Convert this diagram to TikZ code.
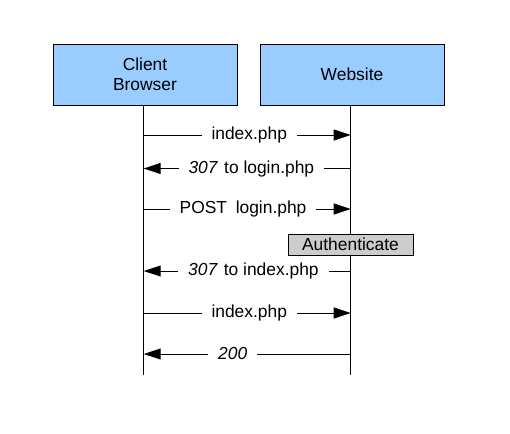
\documentclass[tikz,border=0pt]{standalone}
\usepackage{fontspec}
\setmainfont{Liberation Sans}
\usetikzlibrary{arrows.meta}
\definecolor{boxblue}{HTML}{99CCFF}
\definecolor{boxgray}{HTML}{CCCCCC}

\begin{document}
\begin{tikzpicture}[x=0.5pt, y=-0.5pt, line width=0.5pt,
		txt/.style={font=\fontsize{8.7}{10}\selectfont},
		actor/.style={txt, draw, fill=boxblue, minimum width=92pt, minimum height=30.5pt, align=center},
		check/.style={txt, draw, fill=boxgray, minimum width=62.5pt, minimum height=10.5pt, inner sep=0pt},
		msg/.style={-{Triangle[length=8.5pt,width=5.5pt]}},
		lbl/.style={txt, fill=white, inner xsep=5pt, inner ysep=1pt}]
		\useasboundingbox (0,0) rectangle (510,434);
		\node[actor] (client) at (145,74.5) {Client\\Browser};
		\node[actor] (site) at (352,74.5) {Website};
		\coordinate (clientend) at (143.7,375);
		\coordinate (siteend) at (350.7,375);
		\draw (clientend |- client.south) -- (clientend);
		\draw (siteend |- site.south) -- (siteend);
		\foreach \n/\y in {1/135,2/168.5,3/209,4/271,5/313,6/354} {
			\coordinate (c\n) at (143.7,\y);
			\coordinate (w\n) at (350.7,\y);
		}
		\draw[msg] (c1) -- node[lbl, pos=0.51] {index.php} (w1);
		\draw[msg] (w2) -- node[lbl, pos=0.48] {\textit{307}\hspace{0.35em}to login.php} (c2);
		\draw[msg] (c3) -- node[lbl, pos=0.48] {POST\hspace{0.5em}login.php} (w3);
		\node[check] (auth) at (350.5,244.5) {Authenticate};
		\draw[msg] (w4) -- node[lbl, pos=0.47] {\textit{307}\hspace{0.35em}to index.php} (c4);
		\draw[msg] (c5) -- node[lbl, pos=0.51] {index.php} (w5);
		\draw[msg] (w6) -- node[lbl, pos=0.57] {\textit{200}} (c6);
	\end{tikzpicture}
\end{document}
